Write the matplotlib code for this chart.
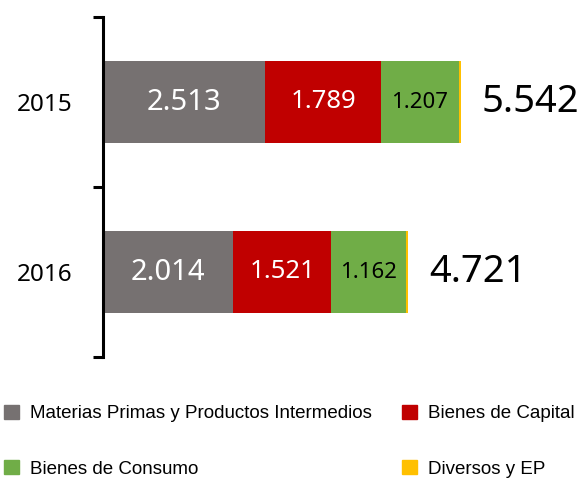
import matplotlib
matplotlib.use("Agg")
import matplotlib.pyplot as plt
from matplotlib.patches import Patch

years = ["2015", "2016"]
materias = [2513, 2014]
capital = [1789, 1521]
consumo = [1207, 1162]
diversos = [33, 24]
totals = ["5.542", "4.721"]
seg_labels = [["2.513", "1.789", "1.207"], ["2.014", "1.521", "1.162"]]

names = ["Materias Primas y Productos Intermedios", "Bienes de Capital",
         "Bienes de Consumo", "Diversos y EP"]
colors = ["#767171", "#C00000", "#70AD47", "#FFC000"]

plt.rcParams['font.family'] = ['Noto Sans', 'DejaVu Sans']

fig = plt.figure(figsize=(5.88, 4.79), dpi=100)
ax = fig.add_axes([103 / 588, 1 - 357 / 479, 485 / 588, 340 / 479])

ypos = [1, 0]
series = [materias, capital, consumo, diversos]
left = [0, 0]
for vals, c in zip(series, colors):
    ax.barh(ypos, vals, left=left, height=0.48, color=c)
    left = [l + v for l, v in zip(left, vals)]

# labels inside the segments
txt_col = ["white", "white", "black"]
txt_size = [21, 18.5, 16]
for i in range(2):
    starts = [0, materias[i], materias[i] + capital[i]]
    widths = [materias[i], capital[i], consumo[i]]
    for k in range(3):
        ax.text(starts[k] + widths[k] / 2, ypos[i], seg_labels[i][k],
                ha='center', va='center', color=txt_col[k], fontsize=txt_size[k])
    ax.annotate(totals[i], (left[i], ypos[i]), xytext=(15, 0),
                textcoords='offset points', ha='left', va='center', fontsize=27.5)

ax.set_xlim(0, 485 / 0.0646)
ax.set_ylim(-0.5, 1.5)
ax.set_xticks([])
ax.set_yticks([-0.5, 0.5, 1.5])
ax.set_yticklabels([])
ax.set_yticks(ypos, minor=True)
ax.set_yticklabels(years, minor=True, fontsize=17.5)
ax.tick_params(axis='y', which='major', length=7, width=2.2, direction='out')
ax.tick_params(axis='y', which='minor', length=0, pad=22)
for s in ['top', 'right', 'bottom']:
    ax.spines[s].set_visible(False)
ax.spines['left'].set_linewidth(2.2)

handles = [Patch(color=colors[0], label=names[0]),
           Patch(color=colors[2], label=names[2]),
           Patch(color=colors[1], label=names[1]),
           Patch(color=colors[3], label=names[3])]
fig.legend(handles=handles, ncol=2, loc='upper left',
           bbox_to_anchor=(0.0, 1 - 401 / 479), frameon=False,
           prop={'family': ['Liberation Sans', 'DejaVu Sans'], 'size': 13.5},
           handlelength=0.8, handleheight=0.8, handletextpad=0.6,
           labelspacing=2.0, columnspacing=1.6, borderaxespad=0, borderpad=0.2)

fig.savefig("out.png", dpi=100)
